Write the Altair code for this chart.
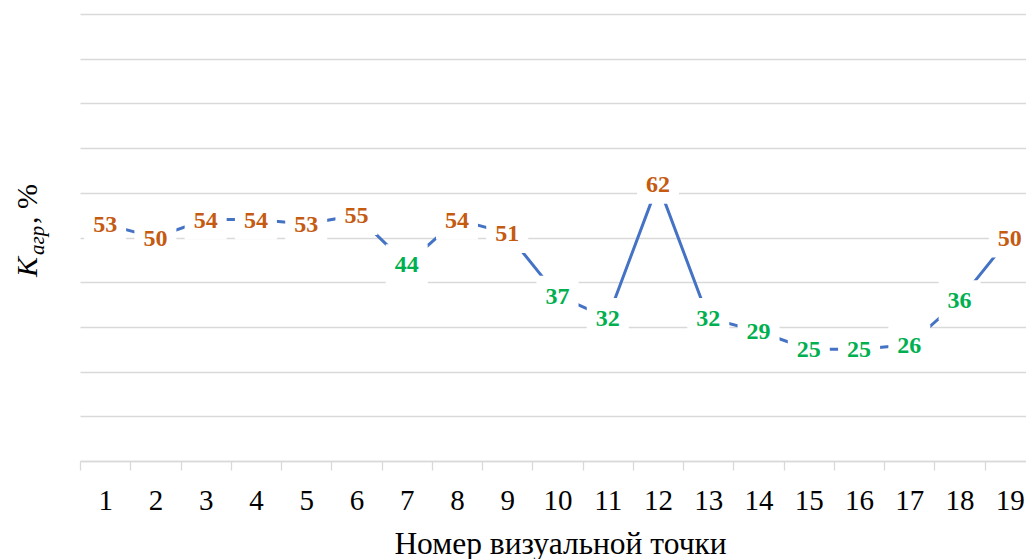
import altair as alt
import pandas as pd

points = [str(i) for i in range(1, 20)]
values = [53, 50, 54, 54, 53, 55, 44, 54, 51, 37, 32, 62, 32, 29, 25, 25, 26, 36, 50]
y_grid = [0, 10, 20, 30, 40, 50, 60, 70, 80, 90, 100]

df = pd.DataFrame({"p": points, "v": values})

FONT = "Liberation Serif"
W, H = 945, 447

x_enc = alt.X(
    "p:O",
    sort=points,
    scale=alt.Scale(type="band", paddingInner=0, paddingOuter=0, range=[0, 955]),
    axis=alt.Axis(
        title="Номер визуальной точки",
        titleFont=FONT, titleFontSize=31.5, titleFontWeight="normal", titleColor="black",
        titleX=480, titleY=92, titleBaseline="alphabetic", titleAnchor="middle",
        labelFont=FONT, labelFontSize=29, labelColor="black", labelAngle=0,
        labelPadding=16, tickBand="extent", tickColor="#d9d9d9", tickSize=9,
        tickWidth=1.3, domainColor="#d9d9d9", domainWidth=1.3, grid=False,
    ),
)
y_enc = alt.Y(
    "v:Q",
    scale=alt.Scale(domain=[0, 100], nice=False, zero=True),
    axis=alt.Axis(
        title=None, labels=False, ticks=False, domain=False, values=y_grid,
        grid=True, gridColor="#d9d9d9", gridWidth=1.3,
    ),
)

base = alt.Chart(df)

line = base.mark_line(color="#4472C4", strokeWidth=3).encode(x=x_enc, y=y_enc)

boxes = base.mark_point(
    shape="M-1,-0.95L1,-0.95L1,0.95L-1,0.95Z", size=1764, filled=True,
    fill="white", stroke=None, opacity=1,
).encode(x=alt.X("p:O", sort=points), y="v:Q")

labels = base.mark_text(
    font=FONT, fontSize=24, fontWeight="bold", baseline="middle", align="center", dy=1,
).encode(
    x=alt.X("p:O", sort=points),
    y="v:Q",
    text="v:Q",
    color=alt.condition(alt.datum.v >= 50, alt.value("#C55A11"), alt.value("#00B050")),
)

# y-axis title: K (italic) + subscript "агр" (italic) + ", %"
title_k = alt.Chart(pd.DataFrame({"t": ["K"]})).mark_text(
    font=FONT, fontSize=30, fontStyle="italic", angle=270, align="left",
    baseline="alphabetic", color="black",
).encode(x=alt.value(-43), y=alt.value(263), text="t:N")
title_sub = alt.Chart(pd.DataFrame({"t": ["агр"]})).mark_text(
    font=FONT, fontSize=21, fontStyle="italic", angle=270, align="left",
    baseline="alphabetic", color="black",
).encode(x=alt.value(-36), y=alt.value(241), text="t:N")
title_rest = alt.Chart(pd.DataFrame({"t": [", %"]})).mark_text(
    font=FONT, fontSize=30, angle=270, align="left",
    baseline="alphabetic", color="black",
).encode(x=alt.value(-43), y=alt.value(210), text="t:N")

chart = alt.layer(line, boxes, labels, title_k, title_sub, title_rest).properties(
    width=W, height=H,
    autosize=alt.AutoSizeParams(type="none"),
    padding={"left": 72, "top": 6, "right": 1, "bottom": 98},
).configure_view(stroke=None)

chart.save("out.html", embed_options={"renderer": "svg", "actions": False})
